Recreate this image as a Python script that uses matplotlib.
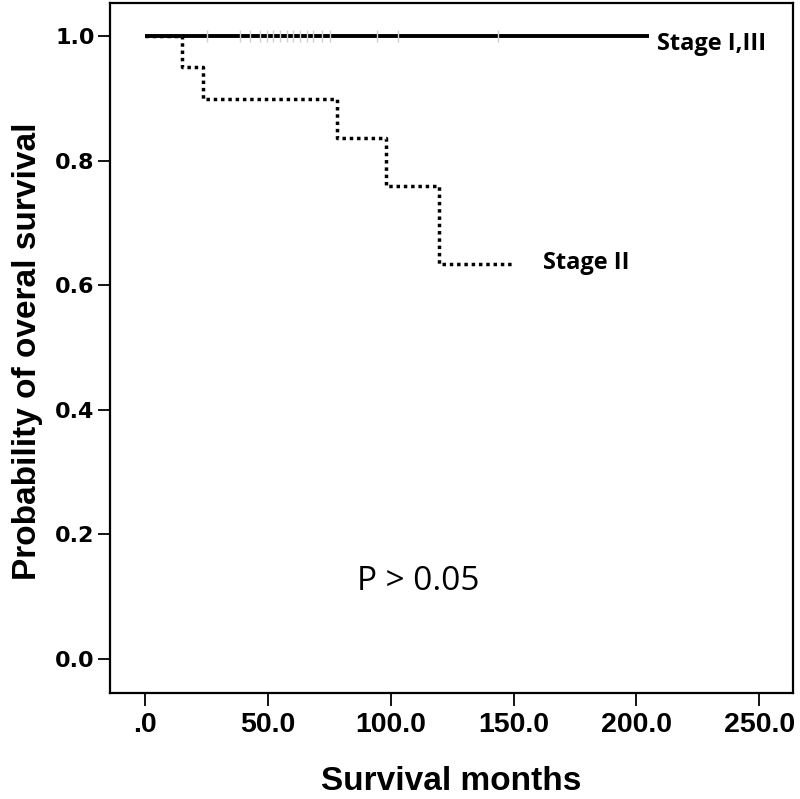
import matplotlib
matplotlib.use("Agg")
import matplotlib.pyplot as plt
import numpy as np

# Kaplan-Meier steps
stage2_months = [0.0, 15.1, 23.6, 78.0, 98.1, 119.7, 149.4]
stage2_surv = [1.0, 0.950, 0.899, 0.836, 0.759, 0.634, 0.634]

stage13_months = [0.0, 205.0]
stage13_surv = [1.0, 1.0]
stage13_censored = [25.2, 38.7, 42.8, 46.8, 49.7, 52.1, 55.0, 57.8, 60.3,
                    63.1, 66.0, 68.4, 72.0, 75.3, 94.5, 103.0, 143.7]

x_ticks = [0, 50, 100, 150, 200, 250]
x_tick_labels = [".0", "50.0", "100.0", "150.0", "200.0", "250.0"]
y_ticks = [0.0, 0.2, 0.4, 0.6, 0.8, 1.0]
y_tick_labels = ["0.0", "0.2", "0.4", "0.6", "0.8", "1.0"]

fig = plt.figure(figsize=(8, 7.99), dpi=100)
ax = fig.add_axes([110 / 800, 1 - 693 / 799, 683 / 800, 690 / 799])

# Stage II : dotted step curve
ax.step(stage2_months, stage2_surv, where="post", color="black",
        lw=2.5, ls=(0, (1, 1.1)), zorder=2)

# Stage I,III : flat line with faint censor marks
ax.plot(stage13_months, stage13_surv, color="black", lw=2.8,
        solid_capstyle="butt", zorder=3)
ax.plot(stage13_censored, [1.0] * len(stage13_censored), ls="none",
        marker="|", ms=9, mew=1.0, color="#d0d0d0", zorder=4)

ax.set_xlim(-14.3, 263.8)
ax.set_ylim(-0.0546, 1.053)

ax.set_xticks(x_ticks)
ax.set_xticklabels(x_tick_labels, fontsize=20.5, fontweight="bold",
                   family="Liberation Sans")
ax.set_yticks(y_ticks)
ax.set_yticklabels(y_tick_labels, fontsize=16, fontweight="bold",
                   family="DejaVu Sans")
ax.tick_params(axis="x", length=9, width=1.3, pad=5)
ax.tick_params(axis="y", length=9, width=1.3, pad=2)
for s in ax.spines.values():
    s.set_linewidth(1.6)

fig.text(451 / 800, 1 - 781 / 799, "Survival months", fontsize=24,
         fontweight="bold", family="Liberation Sans", ha="center", va="center")
fig.text(28 / 800, 1 - 351 / 799, "Probability of overal survival", fontsize=24,
         fontweight="bold", family="Liberation Sans", ha="center", va="center",
         rotation=90)

lab_font = ["Open Sans", "DejaVu Sans"]
ax.text(208.5, 0.987, "Stage I,III", fontsize=17, fontweight="bold",
        family=lab_font, ha="left", va="center")
ax.text(162, 0.636, "Stage II", fontsize=17, fontweight="bold",
        family=lab_font, ha="left", va="center")
ax.text(86.3, 0.124, "P > 0.05", fontsize=24, family=lab_font,
        ha="left", va="center")

fig.savefig("out.png", dpi=100)
